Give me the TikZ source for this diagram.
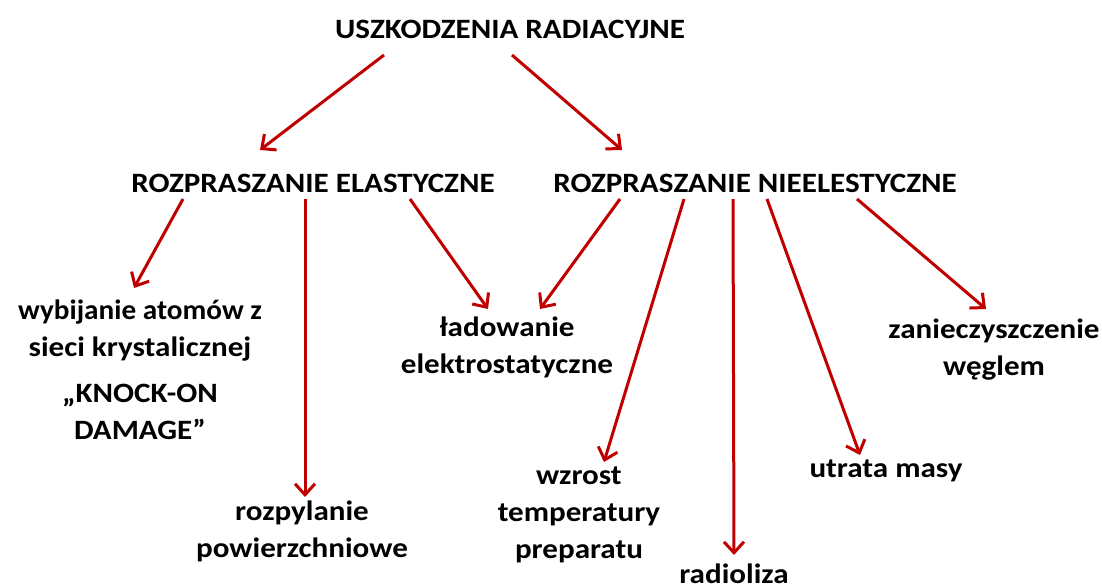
\documentclass[tikz,border=0pt]{standalone}
\usepackage{fontspec}
\usepackage{graphicx}
\setmainfont{Carlito}[FakeStretch=1.11]
\usetikzlibrary{arrows.meta}
\definecolor{arr}{HTML}{C00000}
\tikzset{
  lbl/.style={font=\bfseries\fontsize{28}{37}\selectfont, align=center, inner sep=0pt, text=black, anchor=base},
  head/.style={font=\bfseries\fontsize{28}{37}\selectfont, inner sep=0pt, text=black, anchor=base},
  conn/.style={draw=arr, line width=3pt, -{Straight Barb[length=11pt,width=20pt,line width=3pt]}}
}
\begin{document}
\begin{tikzpicture}[x=1pt,y=-1pt]
\useasboundingbox (0,0) rectangle (1102,584);
\node[head] (root) at (510,38) {USZKODZENIA RADIACYJNE};
\node[head] (el) at (313,192) {ROZPRASZANIE ELASTYCZNE};
\node[head] (nel) at (755,192) {ROZPRASZANIE NIEELESTYCZNE};
\node[lbl] (wyb) at (140,356) {\scalebox{0.94}[1]{wybijanie atomów z}\\sieci krystalicznej};
\node[lbl] (knock) at (140,439) {„KNOCK-ON\\DAMAGE”};
\node[lbl] (lad) at (507,373) {ładowanie\\elektrostatyczne};
\node[lbl] (zan) at (994,375) {zanieczyszczenie\\węglem};
\node[lbl] (roz) at (302,557) {rozpylanie\\powierzchniowe};
\node[lbl] (wzr) at (579,558) {wzrost\\temperatury\\preparatu};
\node[lbl] (utr) at (886,477) {utrata masy};
\node[lbl] (rad) at (734,583) {radioliza};
% connector endpoints
\coordinate (r1) at (384,55);  \coordinate (r1e) at (260,150);
\coordinate (r2) at (512,55);  \coordinate (r2e) at (622,150);
\coordinate (e1) at (183,199); \coordinate (e1e) at (134,288);
\coordinate (e2) at (305,199); \coordinate (e2e) at (305,497);
\coordinate (e3) at (410,199); \coordinate (e3e) at (488,309);
\coordinate (n1) at (620,199); \coordinate (n1e) at (540,309);
\coordinate (n2) at (684,199); \coordinate (n2e) at (604,462);
\coordinate (n3) at (733,199); \coordinate (n3e) at (734,555);
\coordinate (n4) at (767,199); \coordinate (n4e) at (860,455);
\coordinate (n5) at (857,199); \coordinate (n5e) at (986,309);
\draw[conn] (r1) -- (r1e);
\draw[conn] (r2) -- (r2e);
\draw[conn] (e1) -- (e1e);
\draw[conn] (e2) -- (e2e);
\draw[conn] (e3) -- (e3e);
\draw[conn] (n1) -- (n1e);
\draw[conn] (n2) -- (n2e);
\draw[conn] (n3) -- (n3e);
\draw[conn] (n4) -- (n4e);
\draw[conn] (n5) -- (n5e);
\end{tikzpicture}
\end{document}
